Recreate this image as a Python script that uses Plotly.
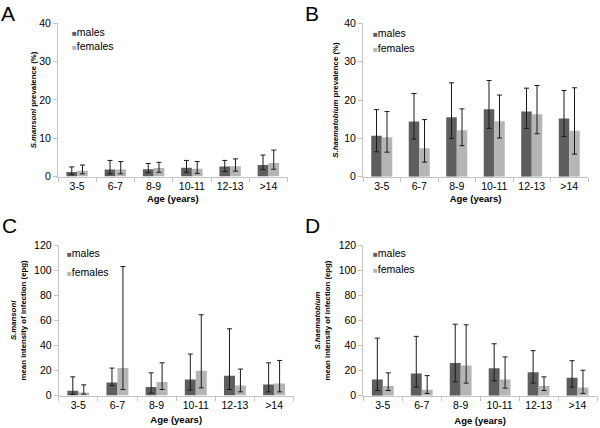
import plotly.graph_objects as go

# ---------------- data ----------------
ages = ["3-5", "6-7", "8-9", "10-11", "12-13", ">14"]

# A: S. mansoni prevalence (%)
a_males = [1.2, 1.8, 1.9, 2.3, 2.6, 3.0]
a_males_lo = [0.5, 0.7, 1.0, 1.1, 1.3, 1.8]
a_males_hi = [2.5, 4.2, 3.4, 4.2, 4.2, 5.6]
a_females = [1.5, 1.8, 2.2, 2.0, 2.7, 3.5]
a_females_lo = [0.7, 0.7, 1.1, 0.8, 1.4, 1.9]
a_females_hi = [3.0, 3.9, 3.7, 3.9, 4.6, 6.9]

# B: S. haematobium prevalence (%)
b_males = [10.7, 14.4, 15.5, 17.6, 17.0, 15.2]
b_males_lo = [6.5, 9.8, 10.0, 12.6, 12.6, 10.5]
b_males_hi = [17.5, 21.7, 24.5, 25.1, 23.1, 22.5]
b_females = [10.3, 7.4, 12.1, 14.5, 16.3, 12.0]
b_females_lo = [6.4, 3.8, 8.1, 10.1, 11.2, 5.9]
b_females_hi = [17.0, 14.9, 17.7, 21.3, 23.8, 23.2]

# C: S. mansoni mean intensity of infection (epg)
c_males = [3.7, 10.4, 6.7, 12.8, 15.7, 8.8]
c_males_lo = [0.8, 8.0, 1.9, 4.3, 4.8, 2.9]
c_males_hi = [14.9, 21.9, 18.1, 33.1, 53.3, 26.1]
c_females = [2.4, 21.9, 10.7, 19.7, 8.0, 9.6]
c_females_lo = [1.1, 4.8, 4.8, 6.1, 2.9, 2.9]
c_females_hi = [8.5, 103.0, 26.1, 64.5, 21.1, 28.0]

# D: S. haematobium mean intensity of infection (epg)
d_males = [13.0, 17.7, 26.2, 22.0, 18.8, 14.3]
d_males_lo = [4.2, 6.9, 11.1, 11.9, 10.1, 6.9]
d_males_hi = [46.0, 47.4, 57.1, 41.5, 36.0, 28.0]
d_females = [7.9, 4.8, 24.1, 13.0, 7.9, 6.6]
d_females_lo = [4.2, 1.9, 10.1, 6.1, 4.2, 1.9]
d_females_hi = [18.3, 16.1, 56.6, 31.0, 15.1, 20.4]

series_names = ["males", "females"]
y_titles = [
    "<b><i>S.mansoni</i> prevalence (%)</b>",
    "<b><i>S.haematobium</i> prevalence (%)</b>",
    "<b><i>S.mansoni</i><br>mean intensity of infection (epg)</b>",
    "<b><i>S.haematobium</i><br>mean intensity of infection (epg)</b>",
]
panel_letters = ["A", "B", "C", "D"]
x_title = "<b>Age (years)</b>"

# ---------------- style ----------------
FONT = "Liberation Sans, Arial, sans-serif"
MALE_C = "#5e5e5e"
FEMALE_C = "#b5b5b5"
AXIS_C = "#c4c4c4"
ERR_C = "#1a1a1a"

panels = [
    dict(m=a_males, mlo=a_males_lo, mhi=a_males_hi, f=a_females, flo=a_females_lo, fhi=a_females_hi,
         xd=[58 / 600, 287.5 / 600], yd=[1 - 176.5 / 428, 1 - 23.4 / 428], yr=[0, 40], dt=10,
         xs=4, ys=1),
    dict(m=b_males, mlo=b_males_lo, mhi=b_males_hi, f=b_females, flo=b_females_lo, fhi=b_females_hi,
         xd=[363 / 600, 588 / 600], yd=[1 - 176.7 / 428, 1 - 23.4 / 428], yr=[0, 40], dt=10,
         xs=4, ys=4),
    dict(m=c_males, mlo=c_males_lo, mhi=c_males_hi, f=c_females, flo=c_females_lo, fhi=c_females_hi,
         xd=[58.7 / 600, 293.7 / 600], yd=[1 - 395.5 / 428, 1 - 245.3 / 428], yr=[0, 120], dt=20,
         xs=6, ys=6),
    dict(m=d_males, mlo=d_males_lo, mhi=d_males_hi, f=d_females, flo=d_females_lo, fhi=d_females_hi,
         xd=[363.3 / 600, 597 / 600], yd=[1 - 395.8 / 428, 1 - 245.3 / 428], yr=[0, 120], dt=20,
         xs=6, ys=6),
]

fig = go.Figure()
layout_axes = {}

for i, p in enumerate(panels):
    n = i + 1
    xa = "x" if n == 1 else f"x{n}"
    ya = "y" if n == 1 else f"y{n}"
    for name, vals, lo, hi, col in [
        ("males", p["m"], p["mlo"], p["mhi"], MALE_C),
        ("females", p["f"], p["flo"], p["fhi"], FEMALE_C),
    ]:
        fig.add_trace(go.Bar(
            x=ages, y=vals, name=name, marker=dict(color=col, line=dict(width=0)),
            xaxis=xa, yaxis=ya, showlegend=False,
            error_y=dict(type="data", symmetric=False,
                         array=[h - v for h, v in zip(hi, vals)],
                         arrayminus=[v - l for v, l in zip(vals, lo)],
                         color=ERR_C, thickness=1, width=2.5),
        ))
    xkey = "xaxis" if n == 1 else f"xaxis{n}"
    ykey = "yaxis" if n == 1 else f"yaxis{n}"
    layout_axes[xkey] = dict(
        domain=p["xd"], anchor=ya, type="category", tickson="boundaries", automargin=False,
        ticks="outside", ticklen=4, tickcolor=AXIS_C, showline=True, linecolor=AXIS_C,
        linewidth=1, showgrid=False, zeroline=False,
        tickfont=dict(family=FONT, size=10.5, color="#000"),
        title=dict(text=x_title, font=dict(family=FONT, size=9.5, color="#000"), standoff=p["xs"]),
    )
    layout_axes[ykey] = dict(
        domain=p["yd"], anchor=xa, range=p["yr"], dtick=p["dt"], tick0=0, automargin=False,
        ticks="outside", ticklen=4, tickcolor=AXIS_C, showline=True, linecolor=AXIS_C,
        linewidth=1, showgrid=False, zeroline=False,
        tickfont=dict(family=FONT, size=10.5, color="#000"),
        title=dict(text=y_titles[i], font=dict(family=FONT, size=7.8, color="#000"), standoff=p["ys"]),
    )

annotations = []
# panel letters
letter_pos = [(-1, 0), (303, 0), (0, 212), (303, 212)]
for letter, (lx, ly) in zip(panel_letters, letter_pos):
    annotations.append(dict(text=letter, x=lx / 600, y=1 - ly / 428, xref="paper", yref="paper",
                            xanchor="left", yanchor="top", showarrow=False,
                            font=dict(family=FONT, size=21, color="#000")))

# legends (inside each panel, top-left)
legend_pos = [(70, 31.7, 46.0), (371, 33.3, 47.7), (65, 253.3, 271.7), (371, 252.7, 269.3)]
for (lx, y1, y2) in legend_pos:
    for name, col, yy in [(series_names[0], MALE_C, y1), (series_names[1], FEMALE_C, y2)]:
        annotations.append(dict(
            text=f'<span style="color:{col};font-size:8px">■</span>{name}',
            x=lx / 600, y=1 - yy / 428, xref="paper", yref="paper",
            xanchor="left", yanchor="middle", showarrow=False,
            font=dict(family=FONT, size=10.5, color="#000")))

fig.update_layout(
    width=600, height=428,
    margin=dict(l=0, r=0, t=0, b=0, autoexpand=False),
    paper_bgcolor="white", plot_bgcolor="white",
    barmode="group", bargap=0.44, bargroupgap=0,
    font=dict(family=FONT, color="#000"),
    annotations=annotations,
    **layout_axes,
)

fig.write_html("out.html", config={"displayModeBar": False},
               post_script="document.body.style.margin='0';")
